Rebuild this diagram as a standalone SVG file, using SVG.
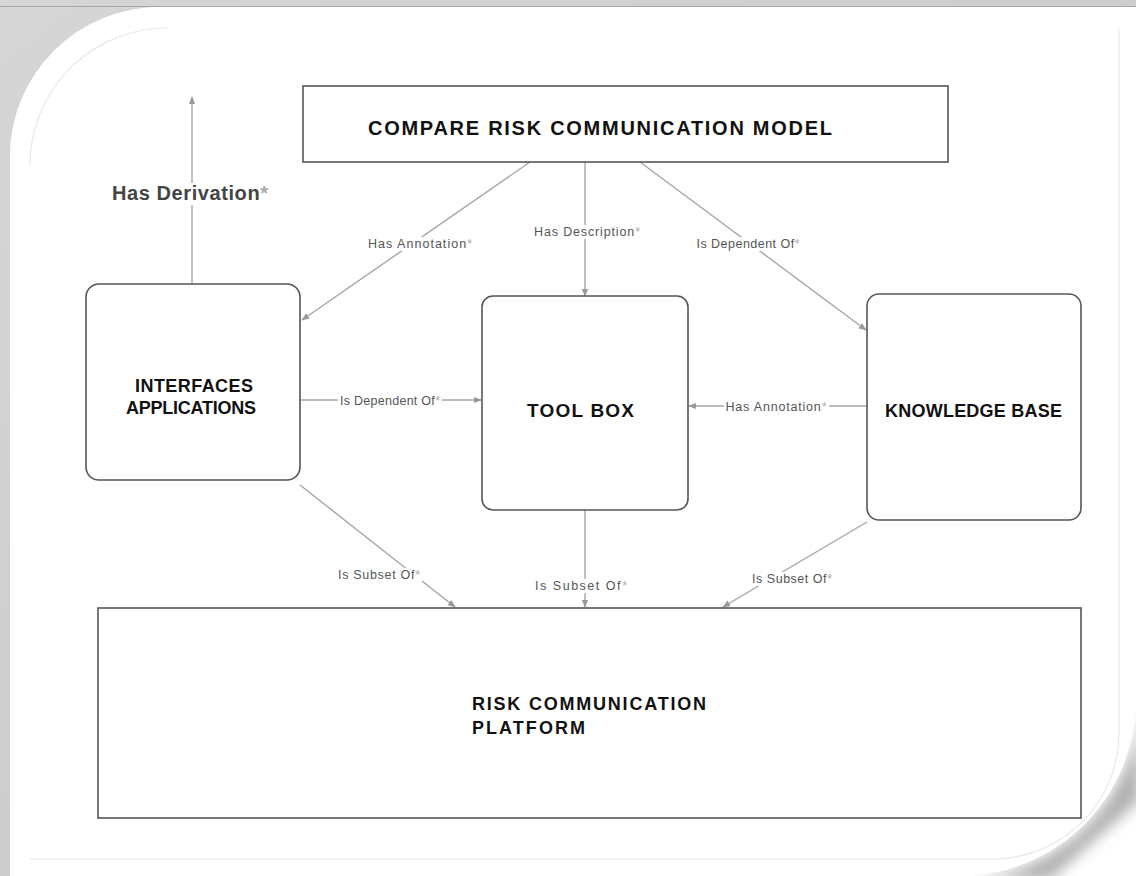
<svg xmlns="http://www.w3.org/2000/svg" width="1136" height="876" viewBox="0 0 1136 876">
  <style>
    .box { fill: #ffffff; stroke: #555555; stroke-width: 1.6; }
    .title { font-family: "Liberation Sans", Arial, sans-serif; font-weight: bold; font-size: 18px; fill: #111111; }
    .conn { stroke: #a6a6a6; stroke-width: 1.4; fill: none; marker-end: url(#arrow); }
    .lbl { font-family: "Liberation Sans", Arial, sans-serif; font-size: 12.5px; fill: #555555; text-anchor: middle; }
    .lblbg { fill: #ffffff; }
    .star { fill: #aaaaaa; }
    .guide { fill: none; stroke: #e8e8e8; stroke-width: 1.2; }
  </style>
  <defs>
    <marker id="arrow" viewBox="0 0 10 10" refX="9" refY="5" markerWidth="8" markerHeight="8" markerUnits="userSpaceOnUse" orient="auto">
      <path d="M0,1 L10,5 L0,9 Z" fill="#999999"/>
    </marker>
    <filter id="soft" x="-10%" y="-10%" width="120%" height="120%">
      <feGaussianBlur stdDeviation="7"/>
    </filter>
    <linearGradient id="edge" x1="0" y1="0" x2="1" y2="1">
      <stop offset="0" stop-color="#d6d6d6"/>
      <stop offset="1" stop-color="#c4c4c4"/>
    </linearGradient>
  </defs>

  <!-- page frame -->
  <g id="frame">
    <rect x="0" y="0" width="1136" height="876" fill="#ffffff"/>
    <path d="M0,0 H1136 V7 H160 A150,150 0 0 0 10,157 V876 H0 Z" fill="url(#edge)"/>
    <path d="M1140,690 A185,185 0 0 1 955,880 L1050,880 L1140,800 Z" fill="#b0b0b0" filter="url(#soft)"/>
    <path d="M10,876 V157 A150,150 0 0 1 160,7 H1136 V700 A176,176 0 0 1 960,876 Z" fill="#ffffff"/>
    <line x1="0" y1="6.5" x2="1136" y2="6.5" stroke="#a8a8a8" stroke-width="1"/>
    <path class="guide" d="M167,28 A137,137 0 0 0 30,165"/>
    <path class="guide" d="M1119,28 V733 A126,126 0 0 1 993,859 H30"/>
  </g>

  <!-- connectors -->
  <g id="connectors">
    <line class="conn" x1="192" y1="284" x2="192" y2="97"/>
    <line class="conn" x1="530" y1="162" x2="302" y2="320"/>
    <line class="conn" x1="585" y1="162" x2="585" y2="296"/>
    <line class="conn" x1="640" y1="162" x2="866" y2="330"/>
    <line class="conn" x1="300" y1="400" x2="481" y2="400"/>
    <line class="conn" x1="867" y1="406" x2="689" y2="406"/>
    <line class="conn" x1="300" y1="485" x2="455" y2="607"/>
    <line class="conn" x1="585" y1="510" x2="585" y2="607"/>
    <line class="conn" x1="867" y1="522" x2="723" y2="607"/>

    <!-- label backgrounds break the lines under the text -->
    <rect class="lblbg" x="110" y="183" width="162" height="22"/>
    <rect class="lblbg" x="366" y="237" width="108" height="14"/>
    <rect class="lblbg" x="532" y="225" width="110" height="14"/>
    <rect class="lblbg" x="695" y="237" width="107" height="14"/>
    <rect class="lblbg" x="338" y="394" width="104" height="14"/>
    <rect class="lblbg" x="724" y="400" width="105" height="14"/>
    <rect class="lblbg" x="336" y="568" width="86" height="14"/>
    <rect class="lblbg" x="533" y="579" width="96" height="14"/>
    <rect class="lblbg" x="750" y="572" width="84" height="14"/>

    <text x="190" y="200" style="font-family:'Liberation Sans', Arial, sans-serif;font-weight:bold;font-size:20px;fill:#444444;text-anchor:middle" textLength="156">Has Derivation<tspan class="star">*</tspan></text>
    <text class="lbl" x="420" y="248" textLength="104">Has Annotation<tspan class="star">*</tspan></text>
    <text class="lbl" x="587" y="236" textLength="106">Has Description<tspan class="star">*</tspan></text>
    <text class="lbl" x="748" y="248" textLength="103">Is Dependent Of<tspan class="star">*</tspan></text>
    <text class="lbl" x="390" y="405" textLength="100">Is Dependent Of<tspan class="star">*</tspan></text>
    <text class="lbl" x="776" y="411" textLength="101">Has Annotation<tspan class="star">*</tspan></text>
    <text class="lbl" x="379" y="579" textLength="82">Is Subset Of<tspan class="star">*</tspan></text>
    <text class="lbl" x="581" y="590" textLength="92">Is Subset Of<tspan class="star">*</tspan></text>
    <text class="lbl" x="792" y="583" textLength="80">Is Subset Of<tspan class="star">*</tspan></text>
  </g>

  <!-- nodes -->
  <g id="node-compare-model">
    <rect class="box" x="303" y="86" width="645" height="76"/>
    <text class="title" x="368" y="135" style="font-size:20px" textLength="464">COMPARE RISK COMMUNICATION MODEL</text>
  </g>
  <g id="node-interfaces">
    <rect class="box" x="86" y="284" width="214" height="196" rx="13"/>
    <text class="title" x="135" y="392" textLength="118">INTERFACES</text>
    <text class="title" x="126" y="414" textLength="130">APPLICATIONS</text>
  </g>
  <g id="node-toolbox">
    <rect class="box" x="482" y="296" width="206" height="214" rx="11"/>
    <text class="title" x="527" y="417" style="font-size:19px" textLength="107">TOOL BOX</text>
  </g>
  <g id="node-knowledge">
    <rect class="box" x="867" y="294" width="214" height="226" rx="12"/>
    <text class="title" x="885" y="417" textLength="177">KNOWLEDGE BASE</text>
  </g>
  <g id="node-platform">
    <rect class="box" x="98" y="608" width="983" height="210"/>
    <text class="title" x="472" y="710" textLength="234">RISK COMMUNICATION</text>
    <text class="title" x="472" y="734" textLength="113">PLATFORM</text>
  </g>
</svg>
